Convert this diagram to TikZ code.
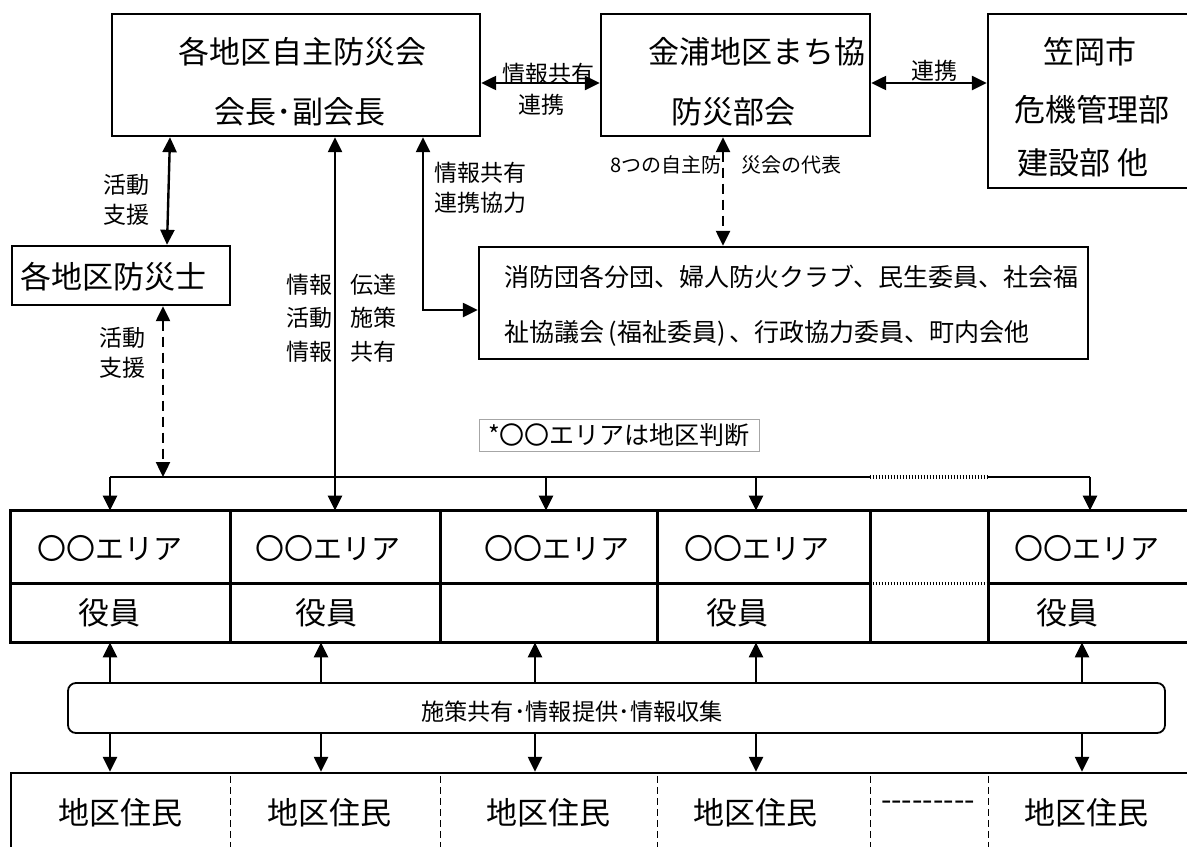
\documentclass[tikz,border=0pt]{standalone}
\usepackage{fontspec}
\setmainfont{Noto Sans CJK JP}
\usetikzlibrary{arrows.meta,positioning,calc}

\tikzset{
  box/.style={draw, line width=1.2pt, inner sep=0pt},
  cell/.style={inner sep=0pt, minimum height=#1},
  ln/.style={line width=1.2pt},
  dotln/.style={line width=1.6pt, dash pattern=on 0.9pt off 0.6pt},
  arr/.style={line width=1.2pt, -{Triangle[length=7.5pt,width=7pt]}},
  biarr/.style={line width=1.2pt, {Triangle[length=7.5pt,width=7pt]}-{Triangle[length=7.5pt,width=7pt]}},
  dasharr/.style={biarr, dash pattern=on 5pt off 3pt},
  divider/.style={line width=0.9pt, dash pattern=on 3.5pt off 2pt},
  tbig/.style={font=\fontsize{15.5}{18}\selectfont, inner sep=0pt},
  tarea/.style={font=\fontsize{14.5}{17}\selectfont, inner sep=0pt},
  tgroup/.style={font=\fontsize{12.5}{14}\selectfont, inner sep=0pt},
  tlab/.style={font=\fontsize{11.5}{13}\selectfont, inner sep=0pt},
  tsmall/.style={font=\fontsize{10}{12}\selectfont, inner sep=0pt}
}

\begin{document}
\begin{tikzpicture}[x=0.5pt, y=-0.5pt]
    \useasboundingbox (0,0) rectangle (1187,846);

    % Top boxes
    \node[box, minimum width=184pt, minimum height=61pt] (boxA) at (296,75) {};
    \node[tbig] (a1t) at (302,52) {各地区自主防災会};
    \node[tbig] (a2t) at (300,112) {会長･副会長};

    \node[box, minimum width=134.5pt, minimum height=61pt] (boxB) at (735.5,75) {};
    \node[tbig] (b1t) at (757,52) {金浦地区まち協};
    \node[tbig] (b2t) at (733,112) {防災部会};

    \node[box, minimum width=102pt, minimum height=87pt] (boxC) at (1090,101) {};
    \node[tbig] (c1t) at (1090,52) {笠岡市};
    \node[tbig] (c2t) at (1092,110) {危機管理部};
    \node[tbig] (c3t) at (1083,163) {建設部 他};

    \node[box, minimum width=109pt, minimum height=29.5pt] (boxS) at (121,275.5) {};
    \node[tbig] (st) at (113,277) {各地区防災士};

    \node[box, minimum width=304.5pt, minimum height=56pt] (boxD) at (783.5,303) {};
    \node[tgroup, anchor=west] (d1t) at (504,277) {消防団各分団、婦人防火クラブ、民生委員、社会福};
    \node[tgroup, anchor=west] (d2t) at (504,333) {祉協議会\,(福祉委員)\,、行政協力委員、町内会他};

    % Links between top boxes
    \draw[biarr] (boxA.east |- 0,83) -- (boxB.west |- 0,83);
    \node[tlab] (l1) at (548,74) {情報共有};
    \node[tlab] (l2) at (541,105) {連携};
    \draw[biarr] (boxB.east |- 0,83) -- (boxC.west |- 0,83);
    \node[tlab] (l3) at (934,71) {連携};

    \draw[biarr] (boxA.south -| 170,0) -- (boxS.north -| 167,0);
    \node[tlab] (l4) at (126,185) {活動};
    \node[tlab] (l5) at (126,215) {支援};

    \draw[biarr] (boxA.south -| 423,0) |- (boxD.west |- 0,310);
    \node[tlab, anchor=west] (l6) at (434,173) {情報共有};
    \node[tlab, anchor=west] (l7) at (434,203) {連携協力};

    \draw[dasharr] (boxB.south -| 723,0) -- (boxD.north -| 723,0);
    \node[tsmall] (l8) at (726,165) {8つの自主防　災会の代表};

    \node[draw=gray!70, line width=0.4pt, inner sep=0pt, minimum width=140pt, minimum height=16pt,
          font=\fontsize{12.5}{14}\selectfont] (note) at (619,435) {*〇〇エリアは地区判断};

    % Area table
    \foreach \i/\l/\r in {1/11/230,2/230/440,3/440/657,4/657/870,5/870/988,6/988/1192} {
        \node[cell=36pt, minimum width={(\r-\l)*0.5pt}] (a\i) at ({(\l+\r)/2},547) {};
        \node[cell=29.5pt, minimum width={(\r-\l)*0.5pt}] (y\i) at ({(\l+\r)/2},612.5) {};
    }
    \draw[ln] (a1.north west) rectangle (y6.south east);
    \draw[ln] (a1.south west) -- (a4.south east);
    \draw[ln] (a6.south west) -- (a6.south east);
    \draw[dotln] (a5.south west) -- (a5.south east);
    \foreach \i in {1,...,5} \draw[ln] (a\i.north east) -- (y\i.south east);
    \foreach \i/\x in {1/110,2/328,3/557,4/757,6/1087} \node[tarea] (at\i) at (\x,548) {〇〇エリア};
    \foreach \i/\x in {1/109,2/326,4/737,6/1067} \node[tbig] (yt\i) at (\x,613) {役員};

    % Bus to areas
    \coordinate (busL) at (110,477);
    \coordinate (busR) at (1090,477);
    \draw[ln] (busL) -- (busL -| a5.west);
    \draw[dotln] (busL -| a5.west) -- (busL -| a6.west);
    \draw[ln] (busL -| a6.west) -- (busR);
    \foreach \x/\c in {110/1,546/3,756/4,1090/6} \draw[arr] (busL -| \x,0) -- (a\c.north -| \x,0);
    \draw[biarr] (boxA.south -| 335,0) -- (a2.north -| 335,0);
    \node[tlab] (l9) at (309,285) {情報};
    \node[tlab] (l10) at (309,318) {活動};
    \node[tlab] (l11) at (309,352) {情報};
    \node[tlab] (l12) at (373,285) {伝達};
    \node[tlab] (l13) at (373,318) {施策};
    \node[tlab] (l14) at (373,352) {共有};
    \draw[dasharr] (boxS.south -| 163,0) -- (busL -| 163,0);
    \node[tlab] (l15) at (122,338) {活動};
    \node[tlab] (l16) at (122,368) {支援};

    % Sharing bar
    \node[draw, line width=0.9pt, rounded corners=4pt, inner sep=0pt, minimum width=548.5pt,
          minimum height=25pt] (bar) at (616.5,708) {};
    \node[font=\fontsize{11.6}{13}\selectfont, inner sep=0pt] (bart) at (572,712) {施策共有･情報提供･情報収集};

    % Residents
    \node[box, minimum width=590.5pt, minimum height=43.5pt] (res) at (601.5,816.5) {};
    \foreach \i in {1,...,5} \draw[divider] ([yshift=-2pt]res.north -| a\i.east) -- (res.south -| a\i.east);
    \foreach \i/\x in {1/120,2/329,3/548,4/755,6/1086} \node[tbig] (rt\i) at (\x,813) {地区住民};
    \node[font=\fontsize{15}{17}\selectfont, inner sep=0pt] (rt5) at (928,806) {-{}-{}-{}-{}-{}-{}-{}-{}-};

    \foreach \x/\c in {110/1,321/2,535/3,756/4,1082/6} {
        \draw[arr] (bar.north -| \x,0) -- (y\c.south -| \x,0);
        \draw[arr] (bar.south -| \x,0) -- (res.north -| \x,0);
    }
\end{tikzpicture}
\end{document}
